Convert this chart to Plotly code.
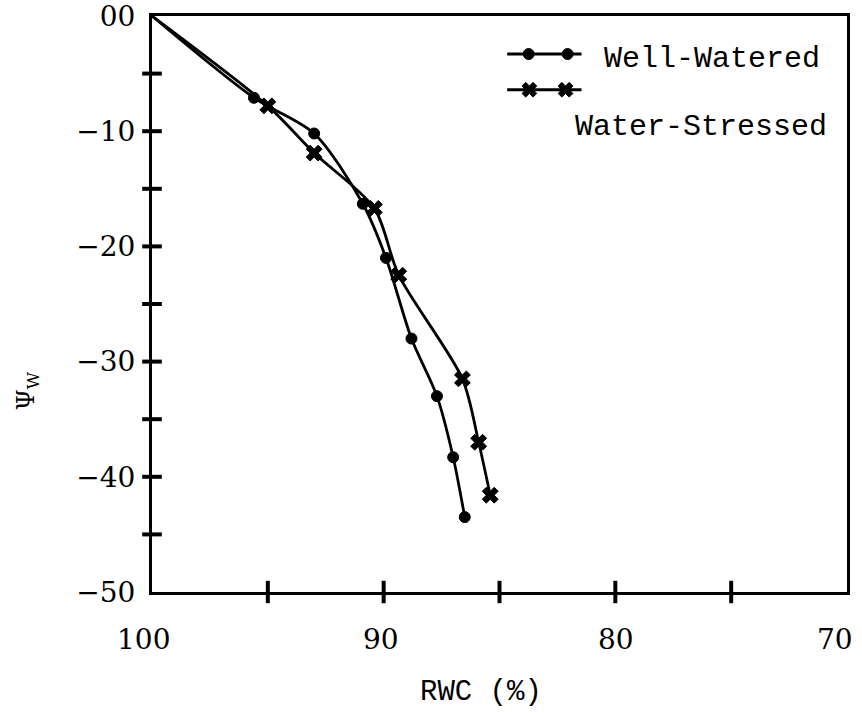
import plotly.graph_objects as go

# Relative water content (%) vs leaf water potential
ww_rwc = [100, 95.6, 93.0, 90.9, 89.9, 88.8, 87.7, 87.0, 86.5]
ww_psi = [0, -7.1, -10.2, -16.3, -21.0, -28.0, -33.0, -38.3, -43.5]
ws_rwc = [100, 95.0, 93.0, 90.4, 89.35, 86.6, 85.9, 85.4]
ws_psi = [0, -7.8, -11.9, -16.7, -22.5, -31.5, -37.0, -41.6]

x_tick_vals = [100, 90, 80, 70]
x_tick_text = ["100", "90", "80", "70"]
x_tick_marks = [95, 90, 85, 80, 75]
y_tick_vals = [0, -10, -20, -30, -40, -50]
y_tick_text = ["00", "\u221210", "\u221220", "\u221230", "\u221240", "\u221250"]
y_tick_marks = [-5, -10, -15, -20, -25, -30, -35, -40, -45]

INK = "black"
SERIF = "DejaVu Serif"
MONO = "Liberation Mono"

fig = go.Figure()

# curves start at the origin (100 %, 0) without a marker there
ww_sizes = [0] + [11] * (len(ww_rwc) - 1)
ws_sizes = [0] + [14] * (len(ws_rwc) - 1)

fig.add_trace(go.Scatter(
    x=ww_rwc, y=ww_psi, mode="lines+markers", name="Well-Watered",
    line=dict(color=INK, width=2.8, shape="spline", smoothing=0.8),
    marker=dict(symbol="circle", size=ww_sizes, color=INK, opacity=1,
                line=dict(color=INK, width=1)),
    cliponaxis=False, showlegend=False,
))
fig.add_trace(go.Scatter(
    x=ws_rwc, y=ws_psi, mode="lines+markers", name="Water-Stressed",
    line=dict(color=INK, width=2.8, shape="spline", smoothing=0.8),
    marker=dict(symbol="x", size=ws_sizes, color=INK, opacity=1,
                line=dict(color=INK, width=1)),
    cliponaxis=False, showlegend=False,
))

# tick marks crossing the axis lines
fig.add_trace(go.Scatter(
    x=[100] * len(y_tick_marks), y=y_tick_marks, mode="markers",
    marker=dict(symbol="line-ew", size=14, line=dict(color=INK, width=4)),
    cliponaxis=False, showlegend=False, hoverinfo="skip",
))
fig.add_trace(go.Scatter(
    x=x_tick_marks, y=[-50] * len(x_tick_marks), mode="markers",
    marker=dict(symbol="line-ns", size=16, line=dict(color=INK, width=4)),
    cliponaxis=False, showlegend=False, hoverinfo="skip",
))

# key samples on an overlay axis spanning the plot area (0..1 both ways)
fig.add_trace(go.Scatter(
    x=[0.511, 0.542, 0.598, 0.618], y=[0.934] * 4, mode="lines+markers",
    line=dict(color=INK, width=2.8),
    marker=dict(symbol="circle", size=[0, 11, 11, 0], color=INK, opacity=1,
                line=dict(color=INK, width=1)),
    xaxis="x2", yaxis="y2", cliponaxis=False, showlegend=False, hoverinfo="skip",
))
fig.add_trace(go.Scatter(
    x=[0.511, 0.543, 0.595, 0.618], y=[0.872] * 4, mode="lines+markers",
    line=dict(color=INK, width=2.8),
    marker=dict(symbol="x", size=[0, 13, 13, 0], color=INK, opacity=1,
                line=dict(color=INK, width=1)),
    xaxis="x2", yaxis="y2", cliponaxis=False, showlegend=False, hoverinfo="skip",
))

annotations = [
    dict(text="Well-Watered", x=0.648, y=0.925, xref="paper", yref="paper",
         xanchor="left", yanchor="middle", showarrow=False,
         font=dict(family=MONO, size=30, color=INK)),
    dict(text="Water-Stressed", x=0.606, y=0.807, xref="paper", yref="paper",
         xanchor="left", yanchor="middle", showarrow=False,
         font=dict(family=MONO, size=30, color=INK)),
    dict(text="RWC (%)", x=0.474, y=-0.175, xref="paper", yref="paper",
         xanchor="center", yanchor="middle", showarrow=False,
         font=dict(family=MONO, size=29, color=INK)),
    dict(text="\u03a8<sub>W</sub>", x=-0.18, y=0.35, xref="paper", yref="paper",
         xanchor="center", yanchor="middle", showarrow=False, textangle=-90,
         font=dict(family=SERIF, size=24, color=INK)),
]

# x tick labels, nudged inward at the two ends so they stay on the page
label_shift = {100: -9, 90: -3, 80: 1, 70: -12}
for val, txt in zip(x_tick_vals, x_tick_text):
    annotations.append(dict(
        text=txt, x=val, y=-0.083, xref="x", yref="paper",
        xanchor="center", yanchor="middle", xshift=label_shift[val],
        showarrow=False, font=dict(family=SERIF, size=28, color=INK),
    ))

fig.update_layout(
    width=862, height=713,
    margin=dict(l=152, r=15, t=16, b=121, autoexpand=False),
    paper_bgcolor="white", plot_bgcolor="white",
    hovermode=False,
    annotations=annotations,
    xaxis=dict(
        range=[100, 70], showticklabels=False, ticks="",
        automargin=False, showgrid=False, zeroline=False,
        showline=True, linecolor=INK, linewidth=3, mirror=True,
    ),
    yaxis=dict(
        range=[-50, 0], tickvals=y_tick_vals, ticktext=y_tick_text,
        ticks="", ticklabelstandoff=8, ticklabeloverflow="allow",
        automargin=False, showgrid=False, zeroline=False,
        showline=True, linecolor=INK, linewidth=3, mirror=True,
        tickfont=dict(family=SERIF, size=28, color=INK),
    ),
    xaxis2=dict(range=[0, 1], overlaying="x", visible=False, fixedrange=True),
    yaxis2=dict(range=[0, 1], overlaying="y", visible=False, fixedrange=True),
)

fig.write_html("out.html")
